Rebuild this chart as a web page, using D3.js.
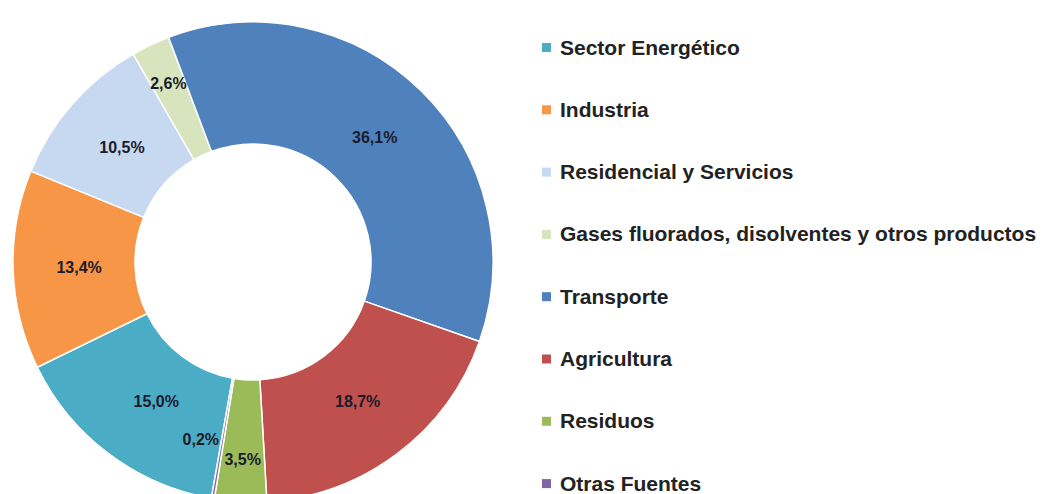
<!DOCTYPE html>
<html>
<head>
<meta charset="utf-8">
<script src="https://cdn.jsdelivr.net/npm/d3@7"></script>
<style>
  body { margin: 0; background: #fff; }
  text { font-family: "Liberation Sans", Arial, sans-serif; font-weight: bold; }
</style>
</head>
<body>
<div id="chart"></div>
<script>
var width = 1050;
var height = 494;

// data (share of emissions, %)
var sectors = ["Sector Energético", "Industria", "Residencial y Servicios",
      "Gases fluorados, disolventes y otros productos", "Transporte",
      "Agricultura", "Residuos", "Otras Fuentes"];
var shares = [15.0, 13.4, 10.5, 2.6, 36.1, 18.7, 3.5, 0.2];
var labels = ["15,0%", "13,4%", "10,5%", "2,6%", "36,1%", "18,7%", "3,5%", "0,2%"];
var colors = ["#4bacc6", "#f79646", "#c6d9f1", "#d7e4bd", "#4f81bd", "#c0504d", "#9bbb59", "#8064a2"];

var cx = 253, cy = 262;
var outerR = 240, innerR = 118;
var firstSliceAngle = 190; // degrees, clockwise from 12 o'clock

var svg = d3.select("#chart").append("svg")
      .attr("width", width)
      .attr("height", height);

var data = sectors.map(function(s, i) {
      return { name: s, value: shares[i], label: labels[i], color: colors[i] };
});

var start = firstSliceAngle * Math.PI / 180;
var pie = d3.pie()
      .sort(null)
      .value(d => d.value)
      .startAngle(start)
      .endAngle(start + 2 * Math.PI);

var arc = d3.arc()
      .innerRadius(innerR)
      .outerRadius(outerR);

var g = svg.append("g")
      .attr("transform", "translate(" + cx + "," + cy + ")");

var arcs = pie(data);

g.selectAll("path")
      .data(arcs)
      .enter()
      .append("path")
      .attr("d", arc)
      .attr("fill", d => d.data.color)
      .attr("stroke", "#fff")
      .attr("stroke-width", 1.5);

// labels sit near the ring middle; the thin slices get theirs moved a bit
var labelR = { "Residuos": 198, "Otras Fuentes": 180, "Gases fluorados, disolventes y otros productos": 198 };
var labelShift = { "Otras Fuentes": -22, "Sector Energético": 8 };

g.selectAll("text.pct")
      .data(arcs)
      .enter()
      .append("text")
      .attr("class", "pct")
      .attr("transform", function(d) {
            var r = labelR[d.data.name] || 174;
            var a = (d.startAngle + d.endAngle) / 2;
            var x = Math.sin(a) * r + (labelShift[d.data.name] || 0);
            var y = -Math.cos(a) * r;
            return "translate(" + x + "," + y + ")";
      })
      .attr("text-anchor", "middle")
      .attr("dy", "0.35em")
      .style("font-size", "16px")
      .style("fill", "#1b1b2a")
      .text(d => d.data.label);

// legend
var legend = svg.append("g")
      .attr("transform", "translate(542, 47)");

var row = legend.selectAll("g")
      .data(data)
      .enter()
      .append("g")
      .attr("transform", (d, i) => "translate(0," + (i * 62.3) + ")");

row.append("rect")
      .attr("x", 0)
      .attr("y", -4)
      .attr("width", 9)
      .attr("height", 9)
      .attr("fill", d => d.color);

row.append("text")
      .attr("x", 18)
      .attr("dy", "0.36em")
      .style("font-size", "21px")
      .style("fill", "#222")
      .text(d => d.name);
</script>
</body>
</html>
